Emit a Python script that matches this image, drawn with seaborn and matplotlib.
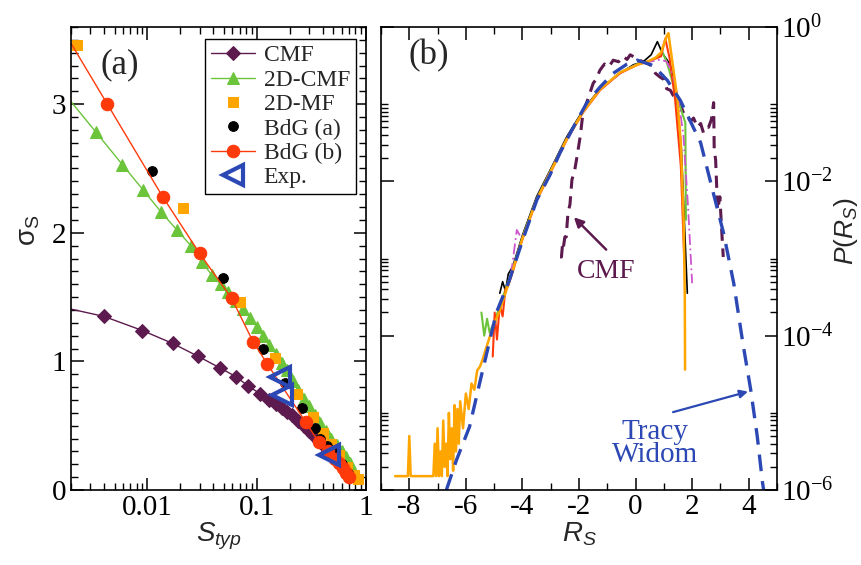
import matplotlib
matplotlib.use('Agg')
import matplotlib.pyplot as plt
import matplotlib.ticker as mticker
import numpy as np
import seaborn as sns

# ---------------- panel (a) data : sigma_S vs S_typ ----------------
cmf_s = [0.0015, 0.004, 0.009, 0.017, 0.029, 0.046, 0.065, 0.083, 0.107, 0.13, 0.15, 0.17, 0.19, 0.21,
         0.24, 0.27, 0.30, 0.33, 0.37, 0.41, 0.45, 0.50, 0.55, 0.60, 0.65, 0.70]
cmf_sigma = [1.43, 1.35, 1.24, 1.14, 1.04, 0.95, 0.88, 0.81, 0.75, 0.70, 0.67, 0.64, 0.61, 0.58,
             0.54, 0.50, 0.46, 0.43, 0.38, 0.34, 0.30, 0.26, 0.22, 0.18, 0.14, 0.10]

cmf2d_s = [0.0015, 0.0034, 0.0059, 0.0092, 0.0134, 0.0187, 0.025, 0.0316, 0.039, 0.047, 0.055, 0.065,
           0.075, 0.087, 0.10, 0.115, 0.13, 0.15, 0.17, 0.19, 0.215, 0.24, 0.27, 0.30, 0.34, 0.38,
           0.43, 0.48, 0.54, 0.60, 0.66, 0.72]
cmf2d_sigma = [3.15, 2.78, 2.53, 2.33, 2.16, 2.02, 1.90, 1.77, 1.67, 1.60, 1.54, 1.47,
               1.41, 1.34, 1.27, 1.20, 1.13, 1.06, 0.99, 0.93, 0.85, 0.78, 0.71, 0.65, 0.58, 0.52,
               0.46, 0.40, 0.35, 0.30, 0.26, 0.21]

mf2d_s = [0.00226, 0.021, 0.071, 0.148, 0.235, 0.33, 0.40, 0.48, 0.57, 0.67, 0.78, 0.85]
mf2d_sigma = [3.46, 2.19, 1.46, 1.03, 0.75, 0.57, 0.44, 0.36, 0.27, 0.18, 0.12, 0.085]

bdga_s = [0.011, 0.049, 0.114, 0.18, 0.26, 0.34, 0.38, 0.44, 0.52, 0.60, 0.68]
bdga_sigma = [2.48, 1.65, 1.10, 0.83, 0.64, 0.48, 0.40, 0.34, 0.29, 0.20, 0.13]

bdgb_s = [0.0015, 0.0043, 0.0138, 0.030, 0.059, 0.093, 0.125, 0.28, 0.37, 0.45, 0.52, 0.57, 0.62, 0.66, 0.70]
bdgb_sigma = [3.65, 3.00, 2.28, 1.84, 1.49, 1.15, 0.98, 0.53, 0.37, 0.30, 0.24, 0.21, 0.17, 0.13, 0.10]

exp_s = [0.162, 0.172, 0.46]
exp_sigma = [0.88, 0.74, 0.27]

# ---------------- panel (b) data : log10 P(R_S) ----------------
tw_r = [-6.69, -6.33, -5.87, -5.51, -4.92, -4.48, -4.0, -3.49, -3.03, -2.67, -2.2, -1.72, -1.26, -0.79,
        -0.3, 0.06, 0.63, 1.12, 1.58, 1.87, 2.30, 2.72, 3.11, 3.47, 3.79, 4.07, 4.30, 4.49, 4.55]
tw_logp = [-6.0, -5.61, -5.18, -4.61, -3.70, -3.30, -2.77, -2.24, -1.92, -1.63, -1.30, -0.98, -0.78, -0.60,
           -0.48, -0.43, -0.50, -0.69, -0.95, -1.17, -1.50, -2.11, -2.67, -3.32, -4.09, -4.70, -5.30, -5.91, -6.05]

orange_r = [-8.5, -8.05, -8.0, -7.95, -7.15, -7.1, -7.05, -7.0, -6.95, -6.9, -6.85, -6.8, -6.75, -6.7,
            -6.65, -6.6, -6.55, -6.5, -6.45, -6.4, -6.35, -6.3, -6.25, -6.2, -6.1, -6.0, -5.9, -5.8,
            -5.7, -5.6, -5.5, -5.4, -5.3, -5.16, -5.0, -4.8, -4.6, -4.34, -4.0, -3.5, -3.0, -2.43,
            -1.86, -1.26, -0.55, 0.06, 0.41, 0.7, 0.9, 1.0, 1.1, 1.16, 1.3, 1.47, 1.6, 1.7, 1.74, 1.75]
orange_logp = [-5.82, -5.82, -5.30, -5.82, -5.82, -5.40, -5.82, -5.20, -5.82, -5.50, -5.82, -5.10, -5.70, -5.40,
               -5.82, -5.00, -5.60, -5.20, -5.75, -4.90, -5.50, -4.95, -5.40, -4.85, -5.20, -4.75, -4.95, -4.62,
               -4.70, -4.45, -4.40, -4.30, -4.18, -4.02, -3.85, -3.67, -3.45, -3.15, -2.74, -2.24, -1.87, -1.45,
               -1.10, -0.81, -0.59, -0.49, -0.45, -0.40, -0.33, -0.22, -0.12, -0.08, -0.45, -0.91, -1.5, -2.5, -3.5, -4.44]

black_r = [-4.8, -4.7, -4.6, -4.5, -4.34, -4.0, -3.5, -3.0, -2.43, -1.86, -1.26, -0.55, -0.08, 0.27,
           0.55, 0.77, 0.95, 1.23, 1.41, 1.55, 1.62, 1.83]
black_logp = [-3.45, -3.30, -3.42, -3.20, -3.10, -2.70, -2.20, -1.84, -1.42, -1.08, -0.80, -0.60, -0.49, -0.45,
              -0.36, -0.19, -0.34, -0.49, -0.78, -1.30, -1.59, -3.45]

green_r = [-5.45, -5.35, -5.25, -5.16, -5.0, -4.8, -4.6, -4.34, -4.0, -3.5, -3.0, -2.43, -1.86, -1.26,
           -0.55, 0.06, 0.5, 0.8, 0.94, 1.1, 1.29, 1.58, 1.76, 1.78]
green_logp = [-3.70, -4.00, -3.78, -3.96, -3.82, -3.62, -3.40, -3.13, -2.73, -2.23, -1.86, -1.45, -1.10, -0.81,
              -0.59, -0.48, -0.44, -0.38, -0.32, -0.45, -0.69, -1.04, -1.24, -2.5]

red_r = [-5.05, -4.98, -4.9, -4.8, -4.7, -4.6, -4.5, -4.34, -4.0, -3.5, -3.0, -2.43, -1.86, -1.26,
         -0.55, 0.06, 0.5, 0.9, 1.05, 1.2, 1.4, 1.6, 1.72]
red_logp = [-4.27, -3.70, -4.05, -3.60, -3.75, -3.40, -3.35, -3.17, -2.75, -2.25, -1.88, -1.46, -1.11, -0.82,
            -0.60, -0.49, -0.44, -0.38, -0.15, -0.40, -0.95, -1.8, -3.0]

magenta_r = [-4.4, -4.2, -4.0, -3.5, -3.0, -2.43, -1.86, -1.26, -0.55, 0.06, 0.5, 0.9, 1.1, 1.3, 1.5,
             1.69, 1.85, 2.0]
magenta_logp = [-3.20, -2.63, -2.76, -2.24, -1.86, -1.45, -1.10, -0.81, -0.60, -0.48, -0.45, -0.42, -0.45,
                -0.60, -0.90, -1.40, -2.30, -3.32]

cmf_r = [-2.67, -2.62, -2.58, -2.55, -2.5, -2.45, -2.42, -2.39, -2.32, -2.25, -2.15, -2.07, -1.95, -1.86,
         -1.7, -1.5, -1.4, -1.26, -1.1, -0.95, -0.79, -0.6, -0.45, -0.3, -0.19, 0.0, 0.2, 0.41, 0.55, 0.7,
         0.87, 1.0, 1.1, 1.23, 1.35, 1.48, 1.6, 1.7, 1.83, 1.95, 2.05, 2.19, 2.3, 2.4, 2.5, 2.58, 2.68, 2.76,
         2.78, 2.83, 2.9, 2.98, 3.05, 3.1]
cmf_logp = [-2.98, -2.98, -2.80, -2.85, -2.72, -2.72, -2.55, -2.41, -2.30, -1.98, -1.85, -1.68, -1.40, -1.11,
            -0.95, -0.73, -0.68, -0.56, -0.48, -0.52, -0.43, -0.45, -0.38, -0.42, -0.36, -0.40, -0.44, -0.47,
            -0.50, -0.60, -0.65, -0.68, -0.80, -0.82, -0.90, -0.98, -1.02, -1.12, -1.17, -1.22, -1.18, -1.30,
            -1.25, -1.37, -1.30, -1.30, -1.20, -0.98, -1.59, -1.72, -2.37, -2.20, -2.67, -2.98]

purple = '#5c1a4e'
green = '#6cc43a'
orange = '#ffa500'
red = '#ff3a0a'
blue = '#2c48b4'
magenta = '#cc55cc'

sns.set_theme(style='ticks')
plt.rcParams['font.family'] = ['Liberation Serif', 'DejaVu Serif']
plt.rcParams['mathtext.fontset'] = 'custom'
plt.rcParams['mathtext.rm'] = 'Liberation Sans'
plt.rcParams['mathtext.it'] = 'Liberation Sans:italic'
plt.rcParams['mathtext.sf'] = 'Liberation Sans'
plt.rcParams['axes.unicode_minus'] = False

fig = plt.figure(figsize=(8.62, 5.65), dpi=100)
ax1 = fig.add_axes([0.0824, 0.1327, 0.3422, 0.8195])
ax2 = fig.add_axes([0.442, 0.1327, 0.4594, 0.8195])

# ---------------- panel (a) ----------------
sns.lineplot(x=cmf_s, y=cmf_sigma, ax=ax1, color=purple, marker='D', markersize=7,
             markeredgecolor=purple, linewidth=1, sort=False, estimator=None, label='CMF')
sns.lineplot(x=cmf2d_s, y=cmf2d_sigma, ax=ax1, color=green, marker='^', markersize=8,
             markeredgecolor=green, linewidth=1, sort=False, estimator=None, label='2D-CMF')
sns.lineplot(x=mf2d_s, y=mf2d_sigma, ax=ax1, color=orange, marker='s', markersize=7,
             markeredgecolor=orange, linestyle='', sort=False, estimator=None, label='2D-MF')
sns.lineplot(x=bdga_s, y=bdga_sigma, ax=ax1, color='black', marker='o', markersize=7,
             markeredgecolor='black', linestyle='', sort=False, estimator=None, label='BdG (a)')
sns.lineplot(x=bdgb_s, y=bdgb_sigma, ax=ax1, color=red, marker='o', markersize=9,
             markeredgecolor=red, linewidth=1, sort=False, estimator=None, label='BdG (b)')
sns.lineplot(x=exp_s, y=exp_sigma, ax=ax1, color=blue, marker='<', markersize=15,
             markerfacecolor='none', markeredgecolor=blue, markeredgewidth=3, linestyle='',
             sort=False, estimator=None, label='Exp.')

ax1.set_xscale('log')
ax1.set_xlim(0.002, 1)
ax1.set_ylim(0, 3.6)
ax1.xaxis.set_major_locator(mticker.FixedLocator([0.001, 0.01, 0.1, 1]))
ax1.xaxis.set_major_formatter(mticker.FixedFormatter(['0.001', '0.01', '0.1', '1']))
ax1.xaxis.set_minor_locator(mticker.LogLocator(base=10, subs=np.arange(2, 10)))
ax1.xaxis.set_minor_formatter(mticker.NullFormatter())
ax1.yaxis.set_major_locator(mticker.MultipleLocator(1))
ax1.yaxis.set_minor_locator(mticker.MultipleLocator(0.1))
ax1.set_xlabel(r'$S_{typ}$', fontsize=20, labelpad=0)
ax1.set_ylabel(r'$\mathrm{\sigma_S}$', fontsize=20)
ax1.yaxis.set_label_coords(-0.10, 0.56)
ax1.text(0.165, 0.918, '(a)', transform=ax1.transAxes, fontsize=25, ha='center', va='center')

leg = ax1.legend(loc='upper right', bbox_to_anchor=(0.966, 0.974), borderaxespad=0,
                 fontsize=17, handlelength=1.9, handletextpad=0.35, labelspacing=0.12,
                 borderpad=0.25, fancybox=False, framealpha=1, edgecolor='black')
leg.get_frame().set_linewidth(1.0)

# ---------------- panel (b) ----------------
sns.lineplot(x=cmf_r, y=10 ** np.array(cmf_logp), ax=ax2, color=purple, linewidth=2.2,
             linestyle=(0, (4, 2.5)), sort=False, estimator=None)
sns.lineplot(x=black_r, y=10 ** np.array(black_logp), ax=ax2, color='black', linewidth=1.2,
             sort=False, estimator=None)
sns.lineplot(x=green_r, y=10 ** np.array(green_logp), ax=ax2, color=green, linewidth=1.5,
             sort=False, estimator=None)
sns.lineplot(x=red_r, y=10 ** np.array(red_logp), ax=ax2, color=red, linewidth=1.5,
             sort=False, estimator=None)
sns.lineplot(x=magenta_r, y=10 ** np.array(magenta_logp), ax=ax2, color=magenta, linewidth=1.3,
             linestyle=(0, (6, 2, 1, 2)), sort=False, estimator=None)
sns.lineplot(x=orange_r, y=10 ** np.array(orange_logp), ax=ax2, color=orange, linewidth=1.8,
             sort=False, estimator=None)
sns.lineplot(x=tw_r, y=10 ** np.array(tw_logp), ax=ax2, color=blue, linewidth=2.4,
             linestyle=(0, (5, 3)), sort=False, estimator=None)

ax2.set_yscale('log')
ax2.set_xlim(-9, 5)
ax2.set_ylim(1e-6, 1)
ax2.xaxis.set_major_locator(mticker.MultipleLocator(2))
ax2.xaxis.set_minor_locator(mticker.MultipleLocator(1))
ax2.yaxis.set_major_locator(mticker.FixedLocator([1e-6, 1e-4, 1e-2, 1]))
ax2.yaxis.set_major_formatter(mticker.FuncFormatter(
    lambda v, p: r'$\mathregular{10^{%d}}$' % int(round(np.log10(v)))))
minor_y = [m * 10.0 ** k for k in (-6, -4, -2) for m in range(2, 11)]
ax2.yaxis.set_minor_locator(mticker.FixedLocator(minor_y))
ax2.yaxis.set_minor_formatter(mticker.NullFormatter())
ax2.yaxis.tick_right()
ax2.yaxis.set_label_position('right')
ax2.set_xlabel(r'$R_S$', fontsize=20, labelpad=0)
ax2.set_ylabel(r'$P(R_S)$', fontsize=19)
ax2.yaxis.set_label_coords(1.138, 0.56)
ax2.text(0.121, 0.937, '(b)', transform=ax2.transAxes, fontsize=25, ha='center', va='center')

ax2.annotate('', xy=(-2.25, 10 ** -2.44), xytext=(-0.97, 10 ** -2.91),
             arrowprops=dict(arrowstyle='-|>', color=purple, lw=1.8, mutation_scale=14))
ax2.text(-1.04, 10 ** -3.17, 'CMF', color=purple, fontsize=20, ha='center', va='center')
ax2.annotate('', xy=(4.07, 10 ** -4.715), xytext=(1.23, 10 ** -5.0),
             arrowprops=dict(arrowstyle='-|>', color=blue, lw=1.6, mutation_scale=12))
ax2.text(0.70, 10 ** -5.40, 'Tracy\nWidom', color=blue, fontsize=21, ha='center', va='center',
         linespacing=0.85)

for ax in (ax1, ax2):
    ax.tick_params(which='both', direction='in', top=True, right=True, left=True, bottom=True,
                   colors='black', labelsize=21)
    ax.tick_params(which='major', length=9, width=1.1)
    ax.tick_params(which='minor', length=5, width=1.0)
    for sp in ax.spines.values():
        sp.set_linewidth(1.2)
        sp.set_color('black')
    ax.set_facecolor('white')
ax2.tick_params(labelleft=False, labelright=True, pad=3)

fig.savefig('out.png', dpi=100, facecolor='white')
